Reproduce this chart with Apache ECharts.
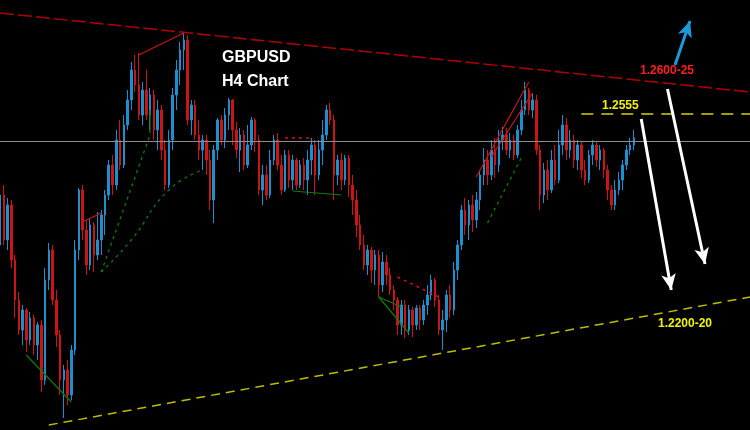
<!DOCTYPE html>
<html>
<head>
<meta charset="utf-8">
<script src="https://cdn.jsdelivr.net/npm/echarts@6/dist/echarts.min.js"></script>
<style>
  html, body { margin: 0; padding: 0; background: #000; }
  #main { width: 750px; height: 430px; }
</style>
</head>
<body>
<div id="main"></div>
<script>
// 201 slots on the x axis, the candles fill the first 170, the rest is room for the projection
var categories = [];
for (var k = 0; k <= 200; k++) categories.push(String(k));

// GBPUSD H4 candles: [open, close, low, high]
var ohlc = [
  [1.2290,1.2390,1.2270,1.2416],[1.2390,1.2300,1.2290,1.2410],[1.2300,1.2370,1.2280,1.2384],[1.2370,1.2260,1.2244,1.2380],[1.2260,1.2180,1.2144,1.2270],
  [1.2180,1.2120,1.2110,1.2196],[1.2120,1.2160,1.2090,1.2170],[1.2160,1.2100,1.2076,1.2164],[1.2100,1.2144,1.2090,1.2156],[1.2144,1.2090,1.2070,1.2150],
  [1.2090,1.2130,1.2060,1.2136],[1.2130,1.2020,1.1996,1.2140],[1.2020,1.2220,1.2010,1.2244],[1.2220,1.2280,1.2200,1.2294],[1.2280,1.2180,1.2170,1.2290],
  [1.2180,1.2110,1.2086,1.2200],[1.2110,1.2020,1.1990,1.2120],[1.2020,1.2040,1.1944,1.2050],[1.2040,1.1990,1.1970,1.2060],[1.1990,1.2080,1.1980,1.2090],
  [1.2080,1.2280,1.2070,1.2300],[1.2280,1.2400,1.2260,1.2404],[1.2400,1.2320,1.2300,1.2410],[1.2320,1.2250,1.2230,1.2340],[1.2250,1.2330,1.2240,1.2344],
  [1.2330,1.2270,1.2236,1.2336],[1.2270,1.2300,1.2260,1.2356],[1.2300,1.2350,1.2270,1.2360],[1.2350,1.2390,1.2310,1.2400],[1.2390,1.2450,1.2380,1.2460],
  [1.2450,1.2410,1.2390,1.2470],[1.2410,1.2500,1.2400,1.2520],[1.2500,1.2450,1.2440,1.2540],[1.2450,1.2530,1.2444,1.2550],[1.2530,1.2580,1.2520,1.2600],
  [1.2580,1.2640,1.2560,1.2656],[1.2640,1.2610,1.2596,1.2670],[1.2610,1.2550,1.2540,1.2674],[1.2550,1.2600,1.2530,1.2616],[1.2600,1.2550,1.2540,1.2640],
  [1.2550,1.2590,1.2520,1.2604],[1.2590,1.2520,1.2500,1.2600],[1.2520,1.2560,1.2480,1.2580],[1.2560,1.2480,1.2460,1.2570],[1.2480,1.2410,1.2400,1.2500],
  [1.2410,1.2500,1.2404,1.2520],[1.2500,1.2590,1.2480,1.2604],[1.2590,1.2640,1.2560,1.2660],[1.2640,1.2680,1.2610,1.2696],[1.2680,1.2700,1.2640,1.2716],
  [1.2700,1.2540,1.2530,1.2710],[1.2540,1.2570,1.2510,1.2580],[1.2570,1.2510,1.2500,1.2580],[1.2510,1.2480,1.2460,1.2540],[1.2480,1.2500,1.2440,1.2510],
  [1.2500,1.2460,1.2430,1.2510],[1.2460,1.2380,1.2360,1.2480],[1.2380,1.2480,1.2334,1.2490],[1.2480,1.2540,1.2460,1.2544],[1.2540,1.2500,1.2490,1.2550],
  [1.2500,1.2550,1.2484,1.2564],[1.2550,1.2580,1.2520,1.2584],[1.2580,1.2520,1.2490,1.2582],[1.2520,1.2480,1.2464,1.2536],[1.2480,1.2510,1.2436,1.2524],
  [1.2510,1.2450,1.2440,1.2520],[1.2450,1.2490,1.2444,1.2530],[1.2490,1.2540,1.2480,1.2546],[1.2540,1.2500,1.2476,1.2544],[1.2500,1.2400,1.2390,1.2510],
  [1.2400,1.2430,1.2370,1.2450],[1.2430,1.2390,1.2380,1.2450],[1.2390,1.2460,1.2384,1.2480],[1.2460,1.2500,1.2450,1.2510],[1.2500,1.2450,1.2440,1.2514],
  [1.2450,1.2400,1.2390,1.2470],[1.2400,1.2470,1.2396,1.2480],[1.2470,1.2420,1.2404,1.2480],[1.2420,1.2460,1.2400,1.2470],[1.2460,1.2410,1.2400,1.2464],
  [1.2410,1.2450,1.2404,1.2460],[1.2450,1.2420,1.2400,1.2464],[1.2420,1.2460,1.2390,1.2480],[1.2460,1.2490,1.2430,1.2504],[1.2490,1.2430,1.2390,1.2500],
  [1.2430,1.2480,1.2420,1.2500],[1.2480,1.2510,1.2450,1.2540],[1.2510,1.2560,1.2500,1.2570],[1.2560,1.2540,1.2530,1.2574],[1.2540,1.2430,1.2380,1.2550],
  [1.2430,1.2460,1.2410,1.2470],[1.2460,1.2420,1.2400,1.2474],[1.2420,1.2464,1.2410,1.2470],[1.2464,1.2410,1.2386,1.2470],[1.2410,1.2380,1.2350,1.2430],
  [1.2380,1.2330,1.2306,1.2400],[1.2330,1.2290,1.2280,1.2350],[1.2290,1.2250,1.2240,1.2310],[1.2250,1.2280,1.2230,1.2290],[1.2280,1.2240,1.2214,1.2286],
  [1.2240,1.2270,1.2210,1.2280],[1.2270,1.2210,1.2186,1.2280],[1.2210,1.2256,1.2196,1.2276],[1.2256,1.2230,1.2210,1.2270],[1.2230,1.2200,1.2190,1.2244],
  [1.2200,1.2180,1.2160,1.2210],[1.2180,1.2130,1.2110,1.2186],[1.2130,1.2170,1.2110,1.2180],[1.2170,1.2120,1.2104,1.2180],[1.2120,1.2160,1.2110,1.2170],
  [1.2160,1.2130,1.2106,1.2166],[1.2130,1.2164,1.2120,1.2170],[1.2164,1.2140,1.2120,1.2170],[1.2140,1.2170,1.2130,1.2180],[1.2170,1.2190,1.2150,1.2210],
  [1.2190,1.2220,1.2180,1.2230],[1.2220,1.2180,1.2166,1.2224],[1.2180,1.2120,1.2110,1.2190],[1.2120,1.2140,1.2080,1.2160],[1.2140,1.2190,1.2116,1.2200],
  [1.2190,1.2160,1.2144,1.2210],[1.2160,1.2240,1.2150,1.2256],[1.2240,1.2290,1.2220,1.2300],[1.2290,1.2360,1.2280,1.2370],[1.2360,1.2330,1.2310,1.2384],
  [1.2330,1.2370,1.2300,1.2380],[1.2370,1.2340,1.2316,1.2390],[1.2340,1.2380,1.2324,1.2396],[1.2380,1.2430,1.2360,1.2440],[1.2430,1.2460,1.2410,1.2484],
  [1.2460,1.2430,1.2410,1.2480],[1.2430,1.2480,1.2420,1.2500],[1.2480,1.2450,1.2424,1.2504],[1.2450,1.2500,1.2436,1.2520],[1.2500,1.2510,1.2480,1.2526],
  [1.2510,1.2480,1.2470,1.2524],[1.2480,1.2500,1.2464,1.2514],[1.2500,1.2470,1.2460,1.2510],[1.2470,1.2520,1.2464,1.2530],[1.2520,1.2560,1.2510,1.2580],
  [1.2560,1.2600,1.2550,1.2616],[1.2600,1.2560,1.2550,1.2604],[1.2560,1.2580,1.2544,1.2594],[1.2580,1.2480,1.2470,1.2590],[1.2480,1.2390,1.2360,1.2490],
  [1.2390,1.2440,1.2374,1.2454],[1.2440,1.2400,1.2380,1.2460],[1.2400,1.2460,1.2394,1.2480],[1.2460,1.2420,1.2410,1.2490],[1.2420,1.2490,1.2414,1.2520],
  [1.2490,1.2530,1.2470,1.2550],[1.2530,1.2480,1.2460,1.2544],[1.2480,1.2500,1.2464,1.2520],[1.2500,1.2460,1.2444,1.2510],[1.2460,1.2490,1.2440,1.2500],
  [1.2490,1.2440,1.2424,1.2496],[1.2440,1.2420,1.2410,1.2460],[1.2420,1.2470,1.2414,1.2480],[1.2470,1.2490,1.2450,1.2500],[1.2490,1.2460,1.2446,1.2496],
  [1.2460,1.2480,1.2440,1.2490],[1.2480,1.2440,1.2424,1.2484],[1.2440,1.2400,1.2380,1.2450],[1.2400,1.2370,1.2360,1.2410],[1.2370,1.2400,1.2360,1.2420],
  [1.2400,1.2420,1.2390,1.2436],[1.2420,1.2450,1.2400,1.2460],[1.2450,1.2480,1.2440,1.2490],[1.2480,1.2490,1.2470,1.2504],[1.2490,1.2504,1.2480,1.2520]
];

// current price and drawn levels
var currentPrice = 1.2498;
var resistance = [[0, 1.2754], [200, 1.2596]];
var support = [[13, 1.1930], [200, 1.2186]];
var level2555 = [[155, 1.2552], [200, 1.2552]];

// zigzag / swing lines
var zzRed = [
  [[22, 1.2336], [27, 1.2354]],
  [[37, 1.2670], [49, 1.2714]],
  [[127, 1.2426], [141, 1.2616]],
  [[131, 1.2466], [142, 1.2594]]
];
var zzRedDotted = [
  [[76, 1.2504], [83, 1.2504]],
  [[106, 1.2226], [117, 1.2186]]
];
var zzGreen = [
  [[7, 1.2070], [19, 1.1976]],
  [[78, 1.2398], [91, 1.2390]],
  [[101, 1.2186], [107, 1.2166]],
  [[101, 1.2186], [109, 1.2114]],
  [[40, 1.2514], [40, 1.2560]]
];
var zzGreenDotted = [
  [[27, 1.2236], [40, 1.2510]],
  [[130, 1.2334], [139, 1.2464]]
];
var zzGreenCurve = [[27, 1.2236], [35, 1.2300], [45, 1.2400], [54, 1.2440]];

// projection arrows [from, to]
var arrowsDown = [
  [[171, 1.2542], [179, 1.2200]],
  [[178, 1.2602], [188, 1.2252]]
];
var arrowUp = [[180, 1.2650], [184, 1.2738]];

var BLUE = '#1c8fcf', RED = '#cc1414', GREEN = '#0b7d0b';

function seg(points, color, type, width, smooth) {
  return {
    type: 'line',
    data: points,
    symbol: 'none',
    smooth: !!smooth,
    silent: true,
    z: 3,
    lineStyle: { color: color, width: width, type: type }
  };
}

function arrow(pair, color) {
  return [
    { coord: pair[0], symbol: 'none', lineStyle: { color: color, width: 3, type: 'solid' } },
    { coord: pair[1], symbol: 'arrow', symbolSize: [11, 16] }
  ];
}

var series = [];
series.push({
  type: 'candlestick',
  data: ohlc,
  barWidth: 2,
  silent: true,
  itemStyle: { color: BLUE, color0: RED, borderColor: BLUE, borderColor0: RED, borderWidth: 1 },
  markLine: {
    silent: true,
    symbol: ['none', 'none'],
    label: { show: false },
    lineStyle: { color: '#8c8c8c', width: 1, type: 'solid' },
    data: [
      [{ coord: [0, currentPrice], lineStyle: { color: '#8c8c8c', width: 1, type: 'solid' } }, { coord: [200, currentPrice] }],
      arrow(arrowsDown[0], '#ffffff'),
      arrow(arrowsDown[1], '#ffffff'),
      arrow(arrowUp, '#1a9ad8')
    ]
  }
});
series.push(seg(resistance, '#b00000', [14, 4], 1.5));
series.push(seg(support, '#bdbd00', [9, 6], 1.5));
series.push(seg(level2555, '#d4d400', [12, 8], 1.5));
zzRed.forEach(function (p) { series.push(seg(p, RED, 'solid', 1.2)); });
zzRedDotted.forEach(function (p) { series.push(seg(p, RED, [3, 4], 1.5)); });
zzGreen.forEach(function (p) { series.push(seg(p, GREEN, 'solid', 1.2)); });
zzGreenDotted.forEach(function (p) { series.push(seg(p, GREEN, [3, 4], 1.3)); });
series.push(seg(zzGreenCurve, GREEN, [3, 4], 1.3, true));

var myChart = echarts.init(document.getElementById('main'));
var option = {
  backgroundColor: '#000000',
  animation: false,
  grid: { left: 0, right: 0, top: 0, bottom: 0 },
  xAxis: {
    type: 'category',
    data: categories,
    boundaryGap: false,
    show: false
  },
  yAxis: {
    type: 'value',
    min: 1.1920,
    max: 1.2780,
    show: false,
    splitLine: { show: false }
  },
  graphic: [
    { type: 'text', left: 222, top: 50, style: { text: 'GBPUSD', fill: '#ffffff', font: 'bold 16px "Liberation Sans", Arial, sans-serif' } },
    { type: 'text', left: 222, top: 74, style: { text: 'H4 Chart', fill: '#ffffff', font: 'bold 16px "Liberation Sans", Arial, sans-serif' } },
    { type: 'text', left: 640, top: 65, style: { text: '1.2600-25', fill: '#ff1e1e', font: 'bold 12px "Liberation Sans", Arial, sans-serif' } },
    { type: 'text', left: 602, top: 100, style: { text: '1.2555', fill: '#f2f200', font: 'bold 12px "Liberation Sans", Arial, sans-serif' } },
    { type: 'text', left: 658, top: 318, style: { text: '1.2200-20', fill: '#f2f200', font: 'bold 12px "Liberation Sans", Arial, sans-serif' } }
  ],
  series: series
};
myChart.setOption(option);
</script>
</body>
</html>
